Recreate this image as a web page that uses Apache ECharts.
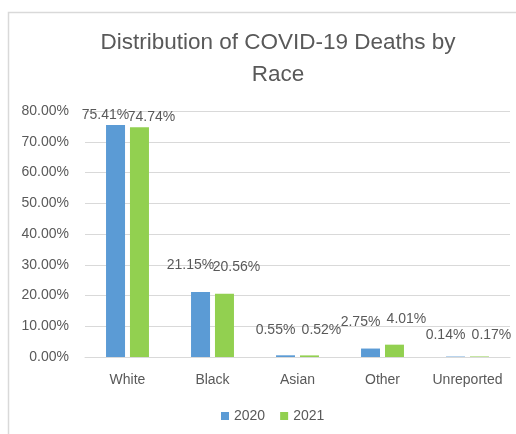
<!DOCTYPE html>
<html>
<head>
<meta charset="utf-8">
<script src="https://cdn.jsdelivr.net/npm/echarts@6/dist/echarts.min.js"></script>
<style>
  html, body { margin: 0; padding: 0; background: #fff; }
  #chart { width: 516px; height: 434px; }
</style>
</head>
<body>
<div id="chart"></div>
<script>
// Share of COVID-19 deaths by race (percent)
const categories = ['White', 'Black', 'Asian', 'Other', 'Unreported'];
const seriesNames = ['2020', '2021'];
const values2020 = [75.41, 21.15, 0.55, 2.75, 0.14];
const values2021 = [74.74, 20.56, 0.52, 4.01, 0.17];
const yTicks = [0, 10, 20, 30, 40, 50, 60, 70, 80];

const FONT = 'Liberation Sans';
const TEXT = '#595959';
const COLORS = ['#5B9BD5', '#92D050'];

// label gap above each bar, per category
const labelGap = { White: 3, Black: 20, Asian: 18, Other: 19, Unreported: 14 };
const labelShift = [-10, 12];

function buildSeries(name, values, idx) {
  return {
    name: name,
    type: 'bar',
    barWidth: 19,
    barGap: '26%',
    itemStyle: { color: COLORS[idx] },
    data: values.map((v, i) => ({
      value: v,
      label: { distance: labelGap[categories[i]] }
    })),
    label: {
      show: true,
      position: 'top',
      offset: [labelShift[idx], 0],
      color: TEXT,
      fontFamily: FONT,
      fontSize: 14,
      formatter: p => p.value.toFixed(2) + '%'
    }
  };
}

const chart = echarts.init(document.getElementById('chart'));
chart.setOption({
  animation: false,
  backgroundColor: '#fff',
  textStyle: { fontFamily: FONT },
  title: {
    text: 'Distribution of COVID-19 Deaths by\nRace',
    left: 273,
    textAlign: 'center',
    top: 22,
    textStyle: {
      fontFamily: FONT,
      fontSize: 22.5,
      fontWeight: 'normal',
      color: TEXT,
      lineHeight: 32
    }
  },
  graphic: [{
    type: 'rect',
    shape: { x: 8.5, y: 12.5, width: 600, height: 600 },
    style: { fill: 'none', stroke: '#d9d9d9', lineWidth: 1.5 },
    silent: true
  }],
  legend: {
    data: seriesNames,
    bottom: 6,
    left: 216,
    itemWidth: 8,
    itemHeight: 8,
    itemGap: 15,
    icon: 'rect',
    textStyle: { color: TEXT, fontFamily: FONT, fontSize: 14 }
  },
  grid: { left: 85, right: 6, top: 111, bottom: 77 },
  xAxis: {
    type: 'category',
    data: categories,
    axisLine: { lineStyle: { color: '#d9d9d9' } },
    axisTick: { show: false },
    axisLabel: { interval: 0, color: TEXT, fontFamily: FONT, fontSize: 14, margin: 16 }
  },
  yAxis: {
    type: 'value',
    min: yTicks[0],
    max: yTicks[yTicks.length - 1],
    interval: yTicks[1] - yTicks[0],
    axisLine: { show: false },
    axisTick: { show: false },
    splitLine: { lineStyle: { color: '#d9d9d9' } },
    axisLabel: {
      color: TEXT,
      fontFamily: FONT,
      fontSize: 14,
      margin: 16,
      formatter: v => v.toFixed(2) + '%'
    }
  },
  series: [
    buildSeries(seriesNames[0], values2020, 0),
    buildSeries(seriesNames[1], values2021, 1)
  ]
});
</script>
</body>
</html>
